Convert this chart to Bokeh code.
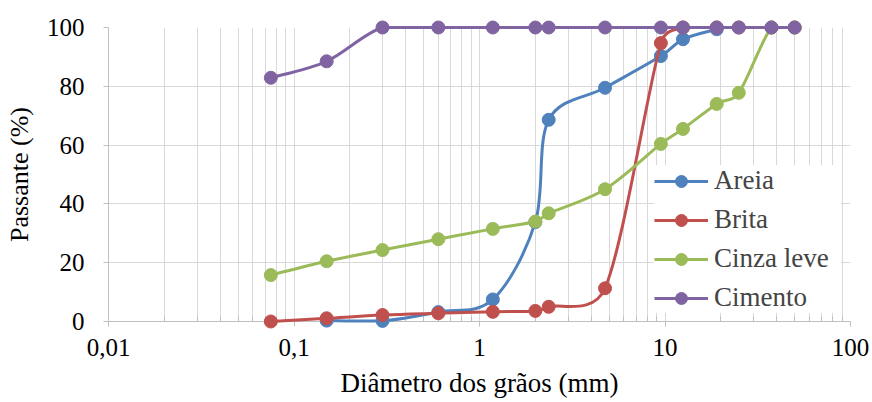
import numpy as np
from bokeh.plotting import figure
from bokeh.models import (FixedTicker, CustomJSTickFormatter, Legend, LegendItem)
from bokeh.embed import file_html
from bokeh.resources import INLINE

# ---- data (grain size distribution) ----
areia_x = [0.15, 0.3, 0.6, 1.18, 2.0, 2.36, 4.75, 9.5, 12.5, 19]
areia_y = [0.3, 0.2, 3.2, 7.5, 33.8, 68.6, 79.5, 90.3, 96.0, 99.4]

brita_x = [0.075, 0.15, 0.3, 0.6, 1.18, 2.0, 2.36, 4.75, 9.5, 12.5, 19, 25, 37.5, 50]
brita_y = [0.0, 1.1, 2.2, 2.8, 3.3, 3.6, 5.0, 11.3, 94.7, 100, 100, 100, 100, 100]

cinza_x = [0.075, 0.15, 0.3, 0.6, 1.18, 2.0, 2.36, 4.75, 9.5, 12.5, 19, 25, 37.5, 50]
cinza_y = [15.8, 20.5, 24.3, 28.0, 31.5, 34.0, 36.8, 45.0, 60.4, 65.5, 74.0, 77.8, 100, 100]

cimento_x = [0.075, 0.15, 0.3, 0.6, 1.18, 2.0, 2.36, 4.75, 9.5, 12.5, 19, 25, 37.5, 50]
cimento_y = [82.9, 88.5, 100, 100, 100, 100, 100, 100, 100, 100, 100, 100, 100, 100]

series_names = ["Areia", "Brita", "Cinza leve", "Cimento"]
series_colors = ["#4F81BD", "#C0504D", "#9BBB59", "#8064A2"]

x_ticks = [0.01, 0.1, 1, 10, 100]
x_tick_labels = ["0,01", "0,1", "1", "10", "100"]
y_ticks = [0, 20, 40, 60, 80, 100]

FONT = "'Liberation Serif', 'Times New Roman', serif"

W, H = 872, 402
LEFT, RIGHT, TOP, BOTTOM = 108, 22, 27, 81
FRAME_W = W - LEFT - RIGHT
FRAME_H = H - TOP - BOTTOM


def smooth_segments(xs, ys, ymin=0.0, ymax=100.0):
    """Excel-like smoothed line: cubic Bezier per segment with Catmull-Rom style
    control arms (limited to half the segment length), computed in screen-proportional
    space and mapped back to data space (log x). Control points are kept inside the
    value range so the curve does not leave the plot area."""
    sx = FRAME_W / 4.0          # px per decade
    sy = FRAME_H / 100.0        # px per percent
    P = np.column_stack([np.log10(np.asarray(xs, dtype=float)) * sx,
                         np.asarray(ys, dtype=float) * sy])
    n = len(P)
    out = dict(x0=[], y0=[], x1=[], y1=[], cx0=[], cy0=[], cx1=[], cy1=[])
    for i in range(n - 1):
        pm = i - 1 if i > 0 else i
        pp = i + 2 if i + 2 < n else i + 1
        seg = np.linalg.norm(P[i + 1] - P[i])
        a0 = (P[i + 1] - P[pm]) / 6.0
        a1 = (P[pp] - P[i]) / 6.0
        for a in (a0, a1):
            L = np.linalg.norm(a)
            if L > seg / 2.0 and L > 0:
                a *= (seg / 2.0) / L
        c0 = P[i] + a0
        c1 = P[i + 1] - a1
        for key, pt in (("0", P[i]), ("1", P[i + 1])):
            out["x" + key].append(10 ** (pt[0] / sx)); out["y" + key].append(pt[1] / sy)
        out["cx0"].append(10 ** (c0[0] / sx))
        out["cy0"].append(min(max(c0[1] / sy, ymin), ymax))
        out["cx1"].append(10 ** (c1[0] / sx))
        out["cy1"].append(min(max(c1[1] / sy, ymin), ymax))
    return out


p = figure(width=W, height=H, x_axis_type="log",
           x_range=(0.01, 100), y_range=(0, 100),
           output_backend="svg", toolbar_location=None,
           min_border_left=LEFT, min_border_right=RIGHT,
           min_border_top=TOP, min_border_bottom=BOTTOM)
p.outline_line_color = None
p.background_fill_color = "white"
p.border_fill_color = "white"

# axes
minor = [k * 10.0 ** e for e in range(-2, 2) for k in range(2, 10)]
p.xaxis.ticker = FixedTicker(ticks=x_ticks, minor_ticks=minor)
p.xaxis.formatter = CustomJSTickFormatter(args=dict(vals=x_ticks, labels=x_tick_labels), code="""
    for (let i = 0; i < vals.length; i++) {
        if (Math.abs(Math.log10(vals[i]) - Math.log10(tick)) < 1e-6) return labels[i];
    }
    return '';
""")
p.yaxis.ticker = FixedTicker(ticks=y_ticks)

for ax in (p.xaxis[0], p.yaxis[0]):
    ax.axis_line_color = "#BFBFBF"
    ax.axis_line_width = 1
    ax.major_tick_line_color = "#BFBFBF"
    ax.minor_tick_line_color = "#BFBFBF"
    ax.major_tick_in = 0
    ax.major_tick_out = 5
    ax.major_label_text_font = FONT
    ax.major_label_text_font_size = "25px"
    ax.major_label_text_color = "black"
    ax.axis_label_text_font = FONT
    ax.axis_label_text_font_style = "normal"
    ax.axis_label_text_color = "black"

p.xaxis.axis_label_text_font_size = "27px"
p.yaxis.axis_label_text_font_size = "26px"
p.xaxis.minor_tick_in = 5
p.xaxis.minor_tick_out = 0
p.yaxis.minor_tick_line_color = None
p.xaxis.major_label_standoff = 12
p.yaxis.major_label_standoff = 19
p.xaxis.axis_label = "Diâmetro dos grãos (mm)"
p.yaxis.axis_label = "Passante (%)"
p.xaxis.axis_label_standoff = 9
p.yaxis.axis_label_standoff = 10

p.xgrid.grid_line_color = "#D9D9D9"
p.xgrid.minor_grid_line_color = "#D9D9D9"
p.ygrid.grid_line_color = "#D9D9D9"

items = []
for name, color, xs, ys in zip(series_names, series_colors,
                                [areia_x, brita_x, cinza_x, cimento_x],
                                [areia_y, brita_y, cinza_y, cimento_y]):
    seg = smooth_segments(xs, ys)
    lr = p.bezier(x0="x0", y0="y0", x1="x1", y1="y1", cx0="cx0", cy0="cy0",
                  cx1="cx1", cy1="cy1", source=seg, line_color=color, line_width=3,
                  level="overlay")
    sr = p.scatter(xs, ys, size=13, marker="circle", fill_color=color,
                   line_color=color, line_width=1, level="overlay")
    items.append(LegendItem(label=name, renderers=[lr, sr]))

legend = Legend(items=items, location=(546, 8), margin=0, padding=6,
                spacing=8, label_height=30, glyph_height=30, glyph_width=54,
                label_width=127, label_standoff=6,
                label_text_font=FONT, label_text_font_size="27px",
                border_line_color=None, background_fill_color="white",
                background_fill_alpha=1.0)
p.add_layout(legend, "center")

open("out.html", "w").write(file_html(p, INLINE))
